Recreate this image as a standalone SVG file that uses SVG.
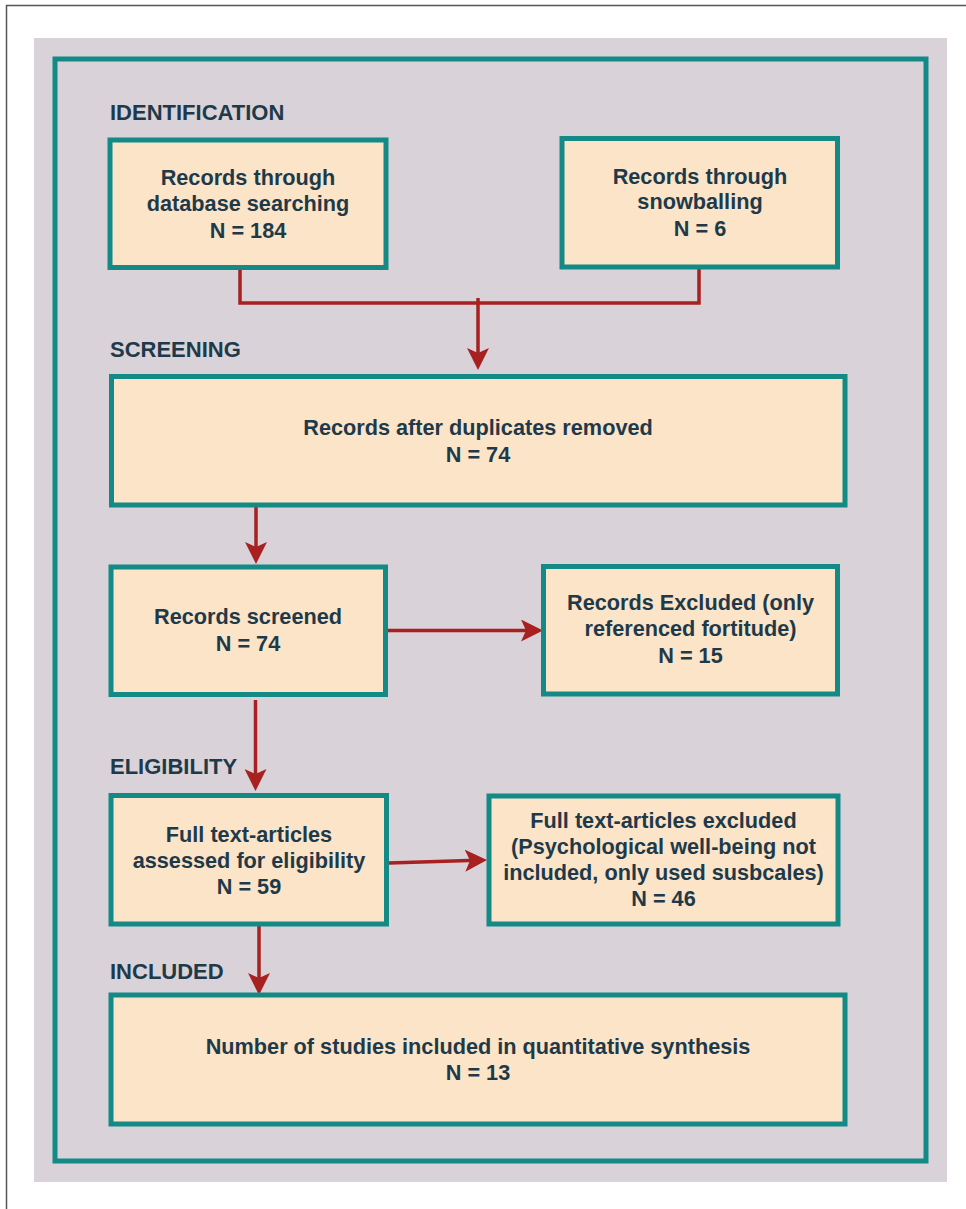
<svg xmlns="http://www.w3.org/2000/svg" width="966" height="1209" viewBox="0 0 966 1209">
<style>
.box{fill:#fbe4c7;stroke:#138a86;stroke-width:5}
.t{font-family:"Liberation Sans",Arial,sans-serif;font-weight:bold;font-size:21.7px;fill:#1e3a4a;text-anchor:middle}
.lbl{font-family:"Liberation Sans",Arial,sans-serif;font-weight:bold;font-size:22px;fill:#1e3a4a}
.c{fill:none;stroke:#a8201f;stroke-width:3.5}
</style>
<defs>
<marker id="ah" markerUnits="userSpaceOnUse" viewBox="0 0 22 22" markerWidth="22" markerHeight="22" refX="12" refY="11" orient="auto">
<path d="M0,0 L22,11 L0,22 L5,11 Z" fill="#a8201f"/>
</marker>
</defs>
<rect x="0" y="0" width="966" height="1209" fill="#ffffff"/>
<path d="M6.5,1209 V5.5 H966" fill="none" stroke="#555" stroke-width="1.5"/>
<rect x="34" y="38" width="913" height="1144" fill="#dad2d9"/>
<rect x="55" y="59" width="871" height="1102" fill="none" stroke="#138a86" stroke-width="5"/>
<g id="labels">
<text class="lbl" x="110" y="120">IDENTIFICATION</text>
<text class="lbl" x="110" y="357">SCREENING</text>
<text class="lbl" x="110" y="774">ELIGIBILITY</text>
<text class="lbl" x="110" y="979">INCLUDED</text>
</g>
<g id="connectors">
<path class="c" d="M240,268 V303 H699 V268"/>
<path class="c" d="M478,298 V360" marker-end="url(#ah)"/>
<path class="c" d="M256,505 V554" marker-end="url(#ah)"/>
<path class="c" d="M386,630.5 H533" marker-end="url(#ah)"/>
<path class="c" d="M255.5,700 V781" marker-end="url(#ah)"/>
<path class="c" d="M389,863 L477,860.3" marker-end="url(#ah)"/>
<path class="c" d="M259,924 V985" marker-end="url(#ah)"/>
</g>
<g id="n1">
<rect class="box" x="110" y="140" width="276" height="127.5"/>
<text class="t" x="248" y="185">Records through</text>
<text class="t" x="248" y="211">database searching</text>
<text class="t" x="248" y="237.5">N = 184</text>
</g>
<g id="n2">
<rect class="box" x="562" y="138.5" width="275.5" height="128.5"/>
<text class="t" x="700" y="183.5">Records through</text>
<text class="t" x="700" y="208.5">snowballing</text>
<text class="t" x="700" y="236">N = 6</text>
</g>
<g id="n3">
<rect class="box" x="111.5" y="376.5" width="733.5" height="128.5"/>
<text class="t" x="478" y="434.5">Records after duplicates removed</text>
<text class="t" x="478" y="461.5">N = 74</text>
</g>
<g id="n4">
<rect class="box" x="111" y="567" width="274.5" height="127.5"/>
<text class="t" x="248" y="624">Records screened</text>
<text class="t" x="248" y="650.5">N = 74</text>
</g>
<g id="n5">
<rect class="box" x="543.5" y="566.5" width="294" height="127.5"/>
<text class="t" x="690.5" y="610">Records Excluded (only</text>
<text class="t" x="690.5" y="636">referenced fortitude)</text>
<text class="t" x="690.5" y="663">N = 15</text>
</g>
<g id="n6">
<rect class="box" x="111" y="795.5" width="275.5" height="128.5"/>
<text class="t" x="249" y="842">Full text-articles</text>
<text class="t" x="249" y="868">assessed for eligibility</text>
<text class="t" x="249" y="894">N = 59</text>
</g>
<g id="n7">
<rect class="box" x="489" y="796" width="349" height="128"/>
<text class="t" x="663.5" y="828">Full text-articles excluded</text>
<text class="t" x="663.5" y="854">(Psychological well-being not</text>
<text class="t" x="663.5" y="880">included, only used susbcales)</text>
<text class="t" x="663.5" y="906">N = 46</text>
</g>
<g id="n8">
<rect class="box" x="111" y="995" width="734" height="129"/>
<text class="t" x="478" y="1054">Number of studies included in quantitative synthesis</text>
<text class="t" x="478" y="1080">N = 13</text>
</g>
</svg>
